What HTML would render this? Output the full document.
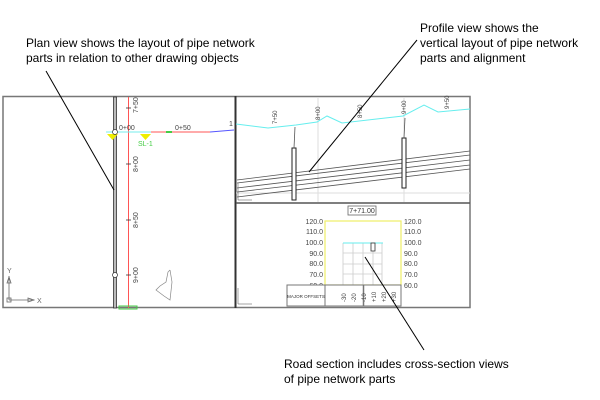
<!DOCTYPE html>
<html><head><style>
body{margin:0;background:#fff;}
svg{display:block;font-family:"Liberation Sans",Arial,sans-serif;}
</style></head><body>
<svg width="600" height="400" viewBox="0 0 600 400">
<!-- callout texts -->
<g font-size="12" fill="#000">
<text x="26" y="47">Plan view shows the layout of pipe network</text>
<text x="26" y="62">parts in relation to other drawing objects</text>
<text x="420" y="32">Profile view shows the</text>
<text x="420" y="47">vertical layout of pipe network</text>
<text x="420" y="62">parts and alignment</text>
<text x="284" y="368">Road section includes cross-section views</text>
<text x="284" y="383">of pipe network parts</text>
</g>
<!-- frames -->
<rect x="3" y="96.5" width="467" height="211" fill="none" stroke="#777" stroke-width="1.5"/>
<line x1="235.5" y1="96" x2="235.5" y2="308" stroke="#333" stroke-width="2"/>
<line x1="236" y1="203" x2="470" y2="203" stroke="#555" stroke-width="1.5"/>

<!-- PLAN VIEW -->
<rect x="113.5" y="97" width="3" height="211" fill="#bbb" stroke="#333" stroke-width="0.8"/>
<line x1="128.5" y1="97" x2="128.5" y2="308" stroke="#f55" stroke-width="1"/>
<g stroke="#333" stroke-width="0.8">
<line x1="126" y1="108" x2="131" y2="108"/><line x1="126" y1="164" x2="131" y2="164"/>
<line x1="126" y1="220" x2="131" y2="220"/><line x1="126" y1="275" x2="131" y2="275"/>
</g>
<g font-size="7" fill="#444">
<text transform="translate(138,113) rotate(-90)">7+50</text>
<text transform="translate(138,172) rotate(-90)">8+00</text>
<text transform="translate(138,228) rotate(-90)">8+50</text>
<text transform="translate(138,283) rotate(-90)">9+00</text>
<text x="119" y="130">0+00</text>
<text x="175" y="130">0+50</text>
<text x="229" y="126">1</text>
</g>
<line x1="106" y1="132" x2="151" y2="132" stroke="#7ee" stroke-width="1"/>
<line x1="151" y1="132" x2="210" y2="132" stroke="#f55" stroke-width="1"/>
<line x1="210" y1="132" x2="234" y2="130" stroke="#55f" stroke-width="1"/>
<rect x="166" y="131" width="6" height="2" fill="#4c4"/>
<polygon points="107,134 118,134 112.5,140" fill="#ee0"/>
<polygon points="140,134 151,134 145.5,140" fill="#ee0"/>
<text x="138" y="146" font-size="7" fill="#4c4">SL-1</text>
<circle cx="115" cy="132" r="2.5" fill="#fff" stroke="#333" stroke-width="0.7"/>
<circle cx="115" cy="275" r="2.5" fill="#fff" stroke="#333" stroke-width="0.7"/>
<rect x="119" y="306" width="18" height="3" fill="none" stroke="#4c4"/>
<polyline points="170,270 172,282 170,300 164,296 156,290 160,286 166,282 168,272 170,270" fill="none" stroke="#888" stroke-width="0.7"/>
<!-- axis -->
<g stroke="#666" stroke-width="0.8" fill="none">
<line x1="9" y1="276" x2="9" y2="300"/><line x1="9" y1="300" x2="32" y2="300"/>
<rect x="7" y="298" width="4" height="4"/>
<polygon points="7,283 9,277 11,283"/><polygon points="28,298 34,300 28,302"/>
</g>
<text x="7" y="273" font-size="7" fill="#666">Y</text>
<text x="37" y="303" font-size="7" fill="#666">X</text>

<!-- PROFILE VIEW -->
<g stroke="#ddd" stroke-width="1"><line x1="318" y1="97" x2="318" y2="202"/><line x1="404" y1="97" x2="404" y2="202"/><line x1="236" y1="193" x2="470" y2="193"/></g>
<polyline points="236,124 268,128 296,125 317,122 327,116 342,123 403,116 424,105 438,112 470,109" fill="none" stroke="#6ee" stroke-width="1"/>
<g stroke="#555" stroke-width="0.8">
<line x1="237" y1="180" x2="470" y2="151"/>
<line x1="237" y1="183" x2="470" y2="155"/>
<line x1="237" y1="188" x2="470" y2="160"/>
<line x1="237" y1="192" x2="470" y2="165"/>
<line x1="237" y1="197" x2="470" y2="169"/>
</g>
<rect x="292" y="148" width="4" height="52" fill="#fff" stroke="#222" stroke-width="1"/>
<rect x="402" y="138" width="4" height="50" fill="#fff" stroke="#222" stroke-width="1"/>
<line x1="294" y1="148" x2="295" y2="127" stroke="#555" stroke-width="0.8"/>
<line x1="404" y1="138" x2="405" y2="118" stroke="#555" stroke-width="0.8"/>
<g font-size="6" fill="#444">
<text transform="translate(277,124) rotate(-90)">7+50</text>
<text transform="translate(320,120) rotate(-90)">8+00</text>
<text transform="translate(362,118) rotate(-90)">8+50</text>
<text transform="translate(406,114) rotate(-90)">9+00</text>
<text transform="translate(449,109) rotate(-90)">9+50</text>
</g>
<g stroke="#666" stroke-width="0.6"><line x1="238" y1="183" x2="238" y2="200"/><line x1="238" y1="200" x2="252" y2="200"/></g>

<!-- SECTION VIEW -->
<rect x="348" y="206" width="28" height="9" fill="#fff" stroke="#666" stroke-width="0.8"/>
<text x="362" y="213" font-size="7" fill="#333" text-anchor="middle">7+71.00</text>
<rect x="325" y="221" width="76" height="64" fill="none" stroke="#ee6" stroke-width="1.2"/>
<g stroke="#ccc" stroke-width="0.8">
<line x1="343" y1="243" x2="343" y2="285"/><line x1="353" y1="243" x2="353" y2="285"/>
<line x1="363" y1="243" x2="363" y2="285"/><line x1="373" y1="243" x2="373" y2="285"/>
<line x1="382" y1="243" x2="382" y2="285"/>
<line x1="343" y1="253" x2="382" y2="253"/><line x1="343" y1="264" x2="382" y2="264"/><line x1="343" y1="274" x2="382" y2="274"/>
</g>
<line x1="343" y1="243" x2="383" y2="243" stroke="#6ee" stroke-width="1"/>
<rect x="371" y="243" width="4" height="8" fill="#fff" stroke="#333" stroke-width="0.8"/>
<g font-size="7" fill="#444">
<g text-anchor="end">
<text x="323" y="224">120.0</text><text x="323" y="234">110.0</text><text x="323" y="245">100.0</text>
<text x="323" y="256">90.0</text><text x="323" y="266">80.0</text><text x="323" y="277">70.0</text><text x="323" y="288">60.0</text>
</g>
<text x="404" y="224">120.0</text><text x="404" y="234">110.0</text><text x="404" y="245">100.0</text>
<text x="404" y="256">90.0</text><text x="404" y="266">80.0</text><text x="404" y="277">70.0</text><text x="404" y="288">60.0</text>
</g>
<rect x="287" y="285" width="114" height="21" fill="#fff" stroke="#777" stroke-width="1"/>
<line x1="325" y1="285" x2="325" y2="306" stroke="#777"/>
<line x1="363.5" y1="285" x2="363.5" y2="306" stroke="#777" stroke-width="1.5"/>
<text x="306" y="298" font-size="4.5" fill="#333" text-anchor="middle">MAJOR OFFSETS</text>
<g font-size="6" fill="#444">
<text transform="translate(346,302) rotate(-90)">-30</text>
<text transform="translate(356,302) rotate(-90)">-20</text>
<text transform="translate(366,302) rotate(-90)" >-10</text>
<text transform="translate(376,302) rotate(-90)">+10</text>
<text transform="translate(386,302) rotate(-90)">+20</text>
<text transform="translate(396,302) rotate(-90)">+30</text>
</g>
<g stroke="#666" stroke-width="0.6"><line x1="238" y1="288" x2="238" y2="304"/><line x1="238" y1="304" x2="252" y2="304"/></g>

<!-- leaders -->
<g stroke="#000" stroke-width="1">
<line x1="46" y1="71" x2="114" y2="190"/>
<line x1="417" y1="40" x2="309" y2="172"/>
<line x1="365" y1="257" x2="424" y2="350"/>
</g>
</svg>
</body></html>
